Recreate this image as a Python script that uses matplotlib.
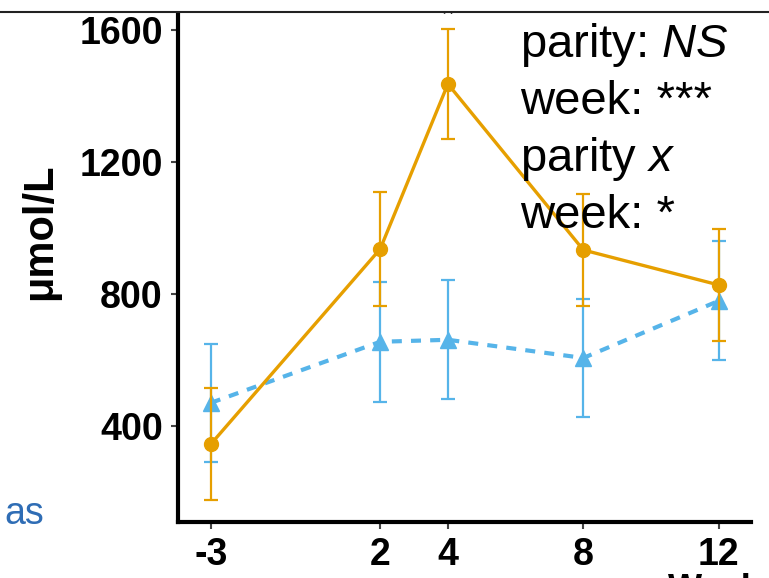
import matplotlib.pyplot as plt
from matplotlib.lines import Line2D
from matplotlib.patches import Rectangle

# datos
semanas = [-3, 2, 4, 8, 12]
naranja = [345, 936, 1436, 933, 827]
naranja_err = [170, 172, 167, 170, 170]
azul = [470, 655, 661, 606, 779]
azul_err = [178, 181, 180, 180, 180]
etiquetas_y = [400, 800, 1200, 1600]

plt.rcParams['font.family'] = ['Liberation Sans', 'DejaVu Sans']
plt.rcParams['mathtext.fontset'] = 'custom'
plt.rcParams['mathtext.it'] = 'Liberation Sans:italic'
plt.rcParams['mathtext.rm'] = 'Liberation Sans'
plt.rcParams['axes.unicode_minus'] = False

fig = plt.figure(figsize=(7.69, 5.78), dpi=100)
ax = fig.add_axes([178/769, 1 - 522/578, (751 - 178)/769, (522 - 13)/578])

c_nar = "#E69F00"
c_azu = "#56B4E9"

ax.errorbar(semanas, azul, yerr=azul_err, color=c_azu, lw=3, ls=(0, (2.4, 2.2)),
            marker="^", ms=12, capsize=5, elinewidth=1.6, capthick=1.6, zorder=3)
ax.errorbar(semanas, naranja, yerr=naranja_err, color=c_nar, lw=2.4, ls="-",
            marker="o", ms=10, capsize=5, elinewidth=1.6, capthick=1.6, zorder=4)

ax.set_xlim(-3.97, 12.95)
ax.set_ylim(109, 1651)
ax.set_xticks(semanas)
ax.set_yticks(etiquetas_y)
ax.tick_params(axis="both", labelsize=27, length=5, width=1.5, color="#444444", pad=6)
for lab in ax.get_xticklabels() + ax.get_yticklabels():
    lab.set_fontweight("bold")

ax.spines["top"].set_visible(False)
ax.spines["right"].set_visible(False)
ax.spines["left"].set_linewidth(3)
ax.spines["bottom"].set_linewidth(3)

ax.set_ylabel("μmol/L", fontsize=30, fontweight="bold")
ax.yaxis.set_label_coords(-0.205, 0.57)

# texto de estadistica
textos = [r"parity: $\mathit{NS}$", "week: ***", r"parity $\mathit{x}$", "week: *"]
for i, t in enumerate(textos):
    fig.text(520/769, 1 - (57 + i*57)/578, t, fontsize=34, ha="left", va="baseline")

# restos de la figura original recortada
fig.text(447/769, 1 - 28/578, "*", fontsize=30, ha="center", va="baseline")
fig.add_artist(Rectangle((0, 1 - 12/578), 1, 12/578, transform=fig.transFigure,
                         facecolor="white", edgecolor="none", zorder=10))
fig.add_artist(Line2D([0, 1], [1 - 12/578, 1 - 12/578], transform=fig.transFigure,
                      color="#222222", lw=1.5, zorder=11))
fig.text(4/769, 1 - 524/578, "as", fontsize=27, color="#2F6DB5", ha="left", va="baseline")
fig.text(715/769, 1 - 600/578, "Week", fontsize=26, fontweight="bold", ha="center", va="baseline")

fig.savefig("out.png", dpi=100)
